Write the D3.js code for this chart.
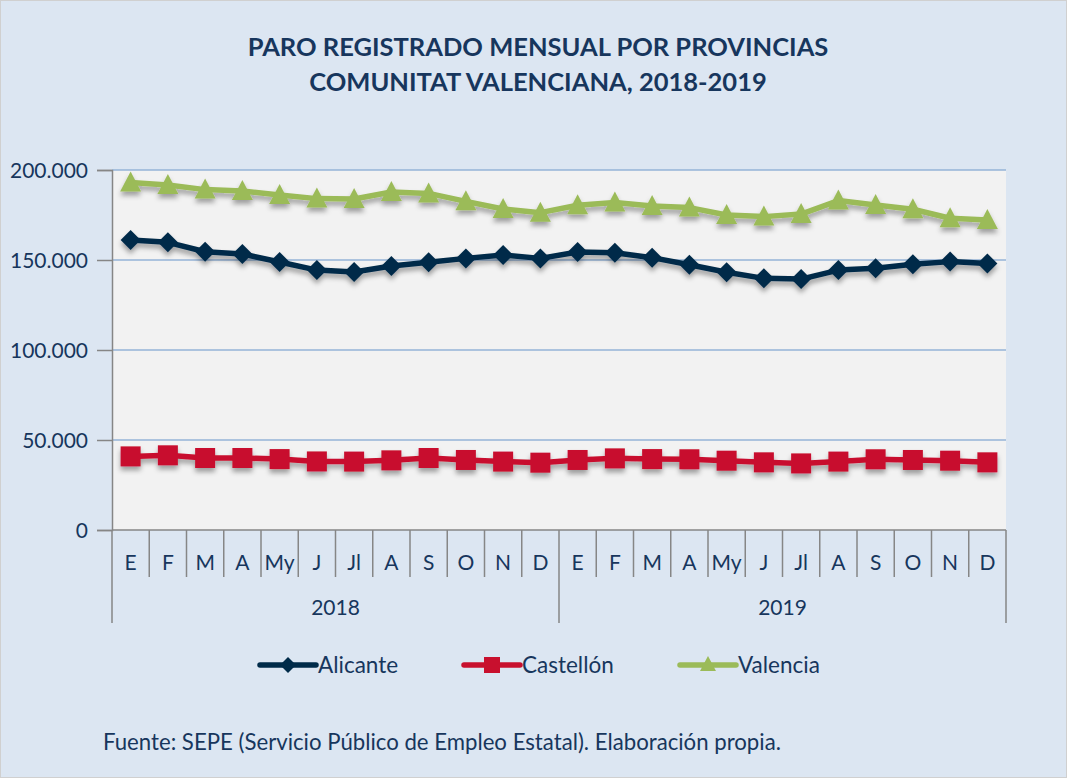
<!DOCTYPE html>
<html><head><meta charset="utf-8">
<script src="https://cdn.jsdelivr.net/npm/d3@7"></script>
<style>
body{margin:0;background:#fff;}
text{font-family:Lato, "Open Sans", sans-serif;}
</style></head>
<body><svg id="c" width="1067" height="778"></svg>
<script>
const months = ["E","F","M","A","My","J","Jl","A","S","O","N","D"];
const years = ["2018","2019"];
const yTicks = [0,50000,100000,150000,200000];
const yTickLabels = ["0","50.000","100.000","150.000","200.000"];
const alicante = [161100,159800,154600,153300,148900,144400,143300,146700,148700,150900,152800,150900,
                  154400,154000,151300,147400,143200,139800,139400,144400,145400,147600,149100,148100];
const castellon = [40900,41500,40000,40000,39400,38100,38000,38700,40000,38900,38000,37400,
                   38900,39800,39400,39300,38500,37600,37000,38000,39300,38900,38500,37600];
const valencia = [193100,191700,189100,188300,186100,184100,183900,187800,187000,182600,178300,176300,
                  180400,181900,180000,179100,175000,174100,175500,183000,180600,178200,173200,172200];
const seriesNames = ["Alicante","Castellón","Valencia"];
const colors = ["#002b49","#c8102e","#9bbb59"];
const title1 = "PARO REGISTRADO MENSUAL POR PROVINCIAS";
const title2 = "COMUNITAT VALENCIANA, 2018-2019";
const source = "Fuente: SEPE (Servicio Público de Empleo Estatal). Elaboración propia.";

const cats = [];
years.forEach(y => months.forEach((m,i) => cats.push(y + "-" + i)));
const textColor = "#17365d";

const svg = d3.select("#c");
const defs = svg.append("defs");
const f = defs.append("filter").attr("id","sh").attr("x","-10%").attr("y","-50%").attr("width","120%").attr("height","200%");
f.append("feDropShadow").attr("dx",0).attr("dy",4).attr("stdDeviation",2.5).attr("flood-color","#000").attr("flood-opacity",0.35);

svg.append("rect").attr("x",0.5).attr("y",0.5).attr("width",1066).attr("height",777)
  .attr("fill","#dce6f2").attr("stroke","#d0d0d0").attr("stroke-width",1);

const L = 112, R = 1006, T = 170, B = 530;
const x = d3.scaleBand().domain(cats).range([L,R]).paddingInner(0).paddingOuter(0);
const y = d3.scaleLinear().domain([0,200000]).range([B,T]);

// title
svg.append("text").attr("x",538).attr("y",56).attr("text-anchor","middle").attr("font-weight","bold")
  .attr("font-size",25.5).attr("fill",textColor).text(title1);
svg.append("text").attr("x",538).attr("y",91).attr("text-anchor","middle").attr("font-weight","bold")
  .attr("font-size",25.5).attr("fill",textColor).text(title2);

// plot area
svg.append("rect").attr("x",L).attr("y",T).attr("width",R-L).attr("height",B-T).attr("fill","#f2f2f2");

// grid
svg.append("g").selectAll("line").data(yTicks.filter(d=>d>0)).join("line")
  .attr("x1",L).attr("x2",R).attr("y1",d=>y(d)).attr("y2",d=>y(d))
  .attr("stroke","#95b3d7").attr("stroke-width",1.5);

// y axis
const yAxis = d3.axisLeft(y).tickValues(yTicks).tickSize(15).tickPadding(9)
  .tickFormat((d,i)=>yTickLabels[i]);
const gy = svg.append("g").attr("transform",`translate(${L},0)`).call(yAxis);
gy.select(".domain").attr("stroke","#868686").attr("stroke-width",1.5);
gy.selectAll(".tick line").attr("stroke","#868686").attr("stroke-width",1.5);
gy.selectAll(".tick text").attr("font-size",21).attr("fill",textColor).attr("font-family","Lato").attr("dy","0.35em");

// x axis baseline
svg.append("line").attr("x1",L).attr("x2",R).attr("y1",B).attr("y2",B).attr("stroke","#868686").attr("stroke-width",1.5);
// month separators
const bounds = cats.map(c=>x(c)).concat([R]);
svg.append("g").selectAll("line").data(bounds).join("line")
  .attr("x1",d=>d).attr("x2",d=>d).attr("y1",B).attr("y2",(d,i)=> (i%12===0) ? 623 : 577)
  .attr("stroke","#868686").attr("stroke-width",1.5);
// month labels
svg.append("g").selectAll("text").data(cats).join("text")
  .attr("x",d=>x(d)+x.bandwidth()/2).attr("y",570).attr("text-anchor","middle")
  .attr("font-size",21).attr("fill",textColor).text((d,i)=>months[i%12]);
// year labels
svg.append("g").selectAll("text").data(years).join("text")
  .attr("x",(d,i)=> (x(d+"-0") + x(d+"-11") + x.bandwidth())/2).attr("y",615).attr("text-anchor","middle")
  .attr("font-size",21).attr("fill",textColor).text(d=>d);

const line = d3.line().x((d,i)=>x(cats[i])+x.bandwidth()/2).y(d=>y(d));
const data = [alicante, castellon, valencia];

function marker(g, type, color, cx, cy){
  if(type===0){
    g.append("path").attr("d",`M${cx},${cy-10}L${cx+10},${cy}L${cx},${cy+10}L${cx-10},${cy}Z`).attr("fill",color);
  } else if(type===1){
    g.append("rect").attr("x",cx-10).attr("y",cy-10).attr("width",20).attr("height",20).attr("fill",color);
  } else {
    g.append("path").attr("d",`M${cx},${cy-11}L${cx+10.5},${cy+9}L${cx-10.5},${cy+9}Z`).attr("fill",color);
  }
}

data.forEach((s,k)=>{
  const g = svg.append("g").attr("filter","url(#sh)");
  g.append("path").datum(s).attr("d",line).attr("fill","none").attr("stroke",colors[k])
    .attr("stroke-width",5.5).attr("stroke-linejoin","round");
  s.forEach((v,i)=> marker(g,k,colors[k], x(cats[i])+x.bandwidth()/2, y(v)));
});

// legend
const legX = [260, 464, 680];
seriesNames.forEach((n,k)=>{
  const g = svg.append("g");
  g.append("line").attr("x1",legX[k]).attr("x2",legX[k]+56).attr("y1",665).attr("y2",665)
    .attr("stroke",colors[k]).attr("stroke-width",5.5).attr("stroke-linecap","round");
  const cx = legX[k]+28;
  if(k===0) g.append("path").attr("d",`M${cx},${665-8}L${cx+8},665L${cx},${665+8}L${cx-8},665Z`).attr("fill",colors[k]);
  else if(k===1) g.append("rect").attr("x",cx-8).attr("y",657).attr("width",16).attr("height",16).attr("fill",colors[k]);
  else g.append("path").attr("d",`M${cx},${656}L${cx+8},${671}L${cx-8},${671}Z`).attr("fill",colors[k]);
  g.append("text").attr("x",legX[k]+58).attr("y",673).attr("font-size",22.5).attr("fill",textColor).text(n);
});

svg.append("text").attr("x",103).attr("y",750).attr("font-size",22.2).attr("fill",textColor).text(source);
</script></body></html>
